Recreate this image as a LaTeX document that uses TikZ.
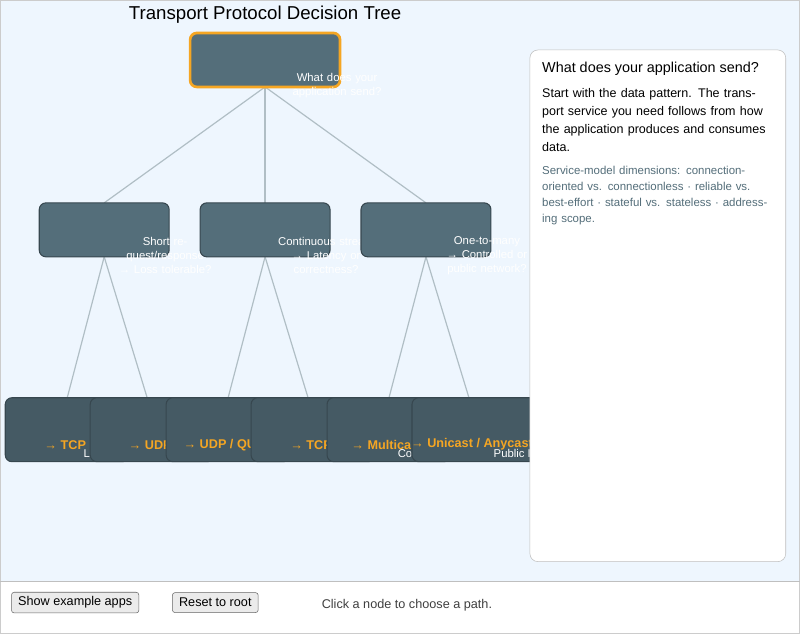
\documentclass[tikz,border=0pt]{standalone}
\usepackage{fontspec}
\setmainfont{Liberation Sans}
\definecolor{pagebg}{HTML}{EEF6FE}
\definecolor{midbox}{HTML}{546E7A}
\definecolor{leafbox}{HTML}{455A64}
\definecolor{boxline}{HTML}{37474F}
\definecolor{edge}{HTML}{B0BEC5}
\definecolor{pick}{HTML}{F5A623}
\definecolor{note}{HTML}{546E7A}
\begin{document}
\begin{tikzpicture}
[x=0.75pt,y=-0.75pt,
 box/.style={draw=boxline,rounded corners=5pt,line width=0.8pt},
 link/.style={draw=edge,line width=0.9pt},
 lbl/.style={text=white,font=\fontsize{8.5}{10.5}\selectfont,align=center,text width=80pt,inner sep=0pt},
 btn/.style={draw=black!60,fill=black!8,rounded corners=2pt,font=\fontsize{9.5}{11}\selectfont,minimum height=15pt,inner xsep=5pt}]
\fill[pagebg] (0,0) rectangle (800,582);
\draw[black!20] (0.5,0.5) rectangle (799.5,633.5);
\fill[white] (1,583) rectangle (799,633);
\draw[black!25] (0,582) -- (800,582);
\node[font=\fontsize{14}{16}\selectfont] (title) at (265,15) {Transport Protocol Decision Tree};

% connectors
\coordinate (r) at (265,87);
\foreach \c/\x in {a/104,b/265,c/426} {
  \draw[link] (r) -- (\x,203);
  \draw[link] (\x,257) -- (\x-37,398);
  \draw[link] (\x,257) -- (\x+43,398);
}

% root
\draw[box,fill=midbox,draw=pick,line width=2pt] (190,33) rectangle (340,87);
\node[lbl] (rootlbl) at (337,86) {What does your application send?};

% second level
\foreach \x/\t in {39/{Short request/response\\→ Loss tolerable?},
                   200/{Continuous stream\\→ Latency or correctness?},
                   361/{One-to-many\\→ Controlled or public network?}} {
  \draw[box,fill=midbox] (\x,203) rectangle ++(130,54);
  \node[lbl] at (\x+126,256) {\t};
}

% leaves
\foreach \x/\p/\t in {5/TCP/Loss intolerable, 90/UDP/Loss tolerable,
                      166/{UDP / QUIC}/Latency first, 251/TCP/Correctness first,
                      327/Multicast/Controlled network, 412/{Unicast / Anycast}/Public Internet} {
  \draw[box,fill=leafbox] (\x,398) rectangle ++(124,64);
  \node[text=pick,font=\bfseries\fontsize{9.5}{11}\selectfont] at (\x+60,445) {→ \p};
  \node[text=white,font=\fontsize{8.5}{10}\selectfont] at (\x+118,454) {\t};
}

% side panel
\draw[black!25,fill=white,rounded corners=6pt] (530,50) rectangle (786,562);
\node[anchor=north west,font=\fontsize{10.8}{13}\selectfont,inner sep=0pt] (ptitle) at (542,62) {What does your application send?};
\node[anchor=north west,text width=175pt,align=left,font=\fontsize{9.4}{13.5}\selectfont,inner sep=0pt] (pbody) at (542,88)
  {Start with the data pattern. The transport service you need follows from how the application produces and consumes data.};
\node[anchor=north west,text width=178pt,align=left,text=note,font=\fontsize{8.6}{12}\selectfont,inner sep=0pt] (pnote) at (542,166)
  {Service-model dimensions: connection-oriented vs. connectionless · reliable vs. best-effort · stateful vs. stateless · addressing scope.};

% bottom bar
\node[btn,anchor=west] (ex) at (11,603) {Show example apps};
\node[btn,anchor=west] (reset) at (172,603) {Reset to root};
\node[anchor=west,font=\fontsize{9.5}{11}\selectfont,text=black!75] (hint) at (317,606) {Click a node to choose a path.};
\end{tikzpicture}
\end{document}
